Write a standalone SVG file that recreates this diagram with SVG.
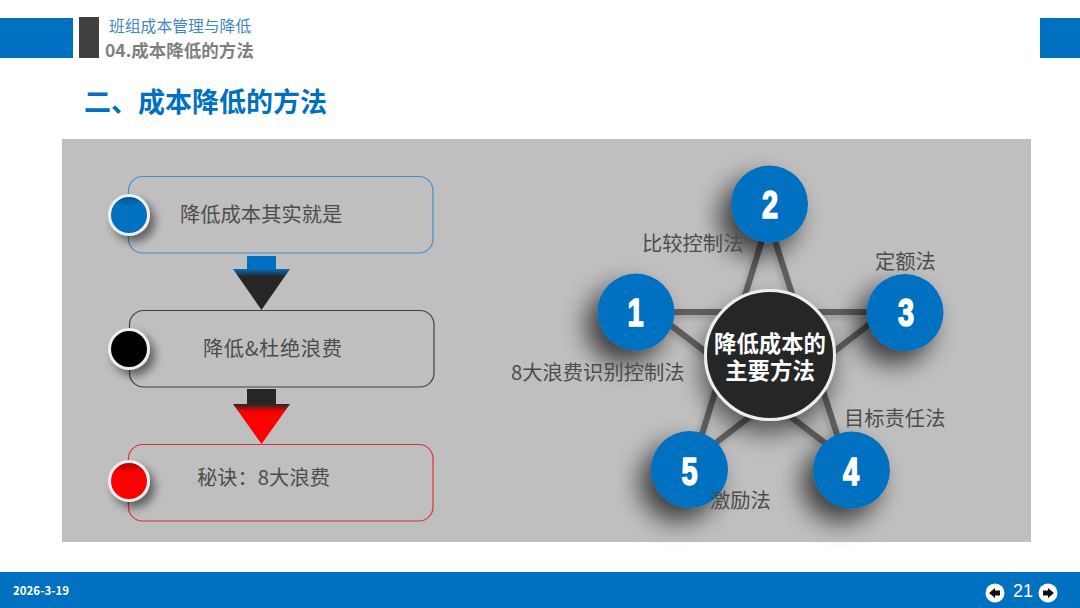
<svg xmlns="http://www.w3.org/2000/svg" width="1080" height="608" viewBox="0 0 1080 608">
<style>
text{font-family:"Noto Sans CJK SC","Noto Sans",sans-serif}
.blue{fill:#0070c0}
.lbl{font-size:20.300px;fill:#4d4d4d}
.box{fill:none;stroke-width:1.2}
.ring{stroke:#eeeeee;stroke-width:3}
.big{fill:#0070c0;filter:url(#sh)}
.num{font-family:"Liberation Sans",sans-serif;font-weight:700;font-size:38px;fill:#fff;stroke:#fff;stroke-width:1.600;text-anchor:middle}
.line{stroke:#5f5f5f;stroke-width:6;fill:none;filter:url(#sl)}
</style>
<defs>
<filter id="sh" x="-80%" y="-80%" width="260%" height="260%"><feGaussianBlur in="SourceAlpha" stdDeviation="13"/><feOffset dx="-11" dy="13"/><feComponentTransfer><feFuncA type="linear" slope="0.7"/></feComponentTransfer><feMerge><feMergeNode/><feMergeNode in="SourceGraphic"/></feMerge></filter>
<filter id="sh2" x="-60%" y="-60%" width="220%" height="220%"><feGaussianBlur in="SourceAlpha" stdDeviation="5"/><feOffset dx="5" dy="6"/><feComponentTransfer><feFuncA type="linear" slope="0.5"/></feComponentTransfer><feMerge><feMergeNode/><feMergeNode in="SourceGraphic"/></feMerge></filter>
<filter id="sh3" x="-50%" y="-50%" width="200%" height="200%"><feGaussianBlur in="SourceAlpha" stdDeviation="12"/><feOffset dx="-3" dy="13"/><feComponentTransfer><feFuncA type="linear" slope="0.55"/></feComponentTransfer><feMerge><feMergeNode/><feMergeNode in="SourceGraphic"/></feMerge></filter>
<filter id="sl" x="-20%" y="-20%" width="140%" height="140%"><feGaussianBlur in="SourceAlpha" stdDeviation="3"/><feOffset dx="-2" dy="3"/><feComponentTransfer><feFuncA type="linear" slope="0.2"/></feComponentTransfer><feMerge><feMergeNode/><feMergeNode in="SourceGraphic"/></feMerge></filter>
<linearGradient id="tb" x1="0" y1="0" x2="0" y2="1"><stop offset="0" stop-color="#0070c0"/><stop offset=".18" stop-color="#262626"/></linearGradient>
<linearGradient id="tr" x1="0" y1="0" x2="0" y2="1"><stop offset="0" stop-color="#262626"/><stop offset=".2" stop-color="#f00"/></linearGradient>
<linearGradient id="cb" x1="0" y1="0" x2="0" y2="1"><stop offset="0" stop-color="#00508c"/><stop offset=".25" stop-color="#0070c0"/></linearGradient>
<linearGradient id="cr" x1="0" y1="0" x2="0" y2="1"><stop offset="0" stop-color="#a80000"/><stop offset=".3" stop-color="#f00"/></linearGradient>
</defs>
<g id="header">
<rect class="blue" x="0" y="18" width="73" height="40"/>
<rect x="79" y="17" width="20" height="41" fill="#404040"/>
<rect class="blue" x="1040" y="18" width="40" height="40"/>
<text x="109" y="32" font-size="15.800" fill="#3f87c9">班组成本管理与降低</text>
<text x="105" y="57" font-size="17.500" font-weight="700" fill="#7f7f7f">04.成本降低的方法</text>
<text x="84" y="111.500" font-size="27" font-weight="700" fill="#0070c0">二、成本降低的方法</text>
</g>
<rect id="panel" x="62" y="139" width="969" height="403" fill="#bfbfbf"/>
<g id="connectors">
<rect x="247" y="256" width="29" height="14" fill="#0070c0"/>
<path d="M233 269H290L261.500 310Z" fill="url(#tb)"/>
<rect x="247" y="389" width="29" height="15" fill="#262626"/>
<path d="M233 404H290L261.500 444Z" fill="url(#tr)"/>
<path class="line" d="M767 224L699 444M769 222L841 447M660 317L838 453M880 316L704 452M660 312H880"/>
</g>
<g id="box1">
<rect class="box" x="128.500" y="176.500" width="304.500" height="76.500" rx="14" stroke="#4a8fc4"/>
<circle class="ring" cx="129" cy="215" r="19.500" fill="url(#cb)" filter="url(#sh2)"/>
<text class="lbl" x="180" y="222">降低成本其实就是</text>
</g>
<g id="box2">
<rect class="box" x="129.500" y="310.500" width="304.500" height="76.500" rx="14" stroke="#404040"/>
<circle class="ring" cx="129" cy="349" r="19.500" fill="#000" filter="url(#sh2)"/>
<text class="lbl" x="203" y="356" textLength="139">降低&amp;杜绝浪费</text>
</g>
<g id="box3">
<rect class="box" x="128.500" y="444.500" width="304.500" height="76.500" rx="14" stroke="#d9353f"/>
<circle class="ring" cx="129" cy="481" r="19.500" fill="url(#cr)" filter="url(#sh2)"/>
<text class="lbl" x="197" y="485">秘诀：8大浪费</text>
</g>
<g id="node1"><circle class="big" cx="636" cy="312" r="38.500"/><text class="num" transform="translate(635.500 326) scale(.76 1)">1</text></g>
<g id="node2"><circle class="big" cx="769.500" cy="204" r="38.500"/><text class="num" transform="translate(770 218) scale(.76 1)">2</text></g>
<g id="node3"><circle class="big" cx="905" cy="312.500" r="38.500"/><text class="num" transform="translate(906 326) scale(.76 1)">3</text></g>
<g id="node4"><circle class="big" cx="851.500" cy="470" r="38.500"/><text class="num" transform="translate(851 485) scale(.76 1)">4</text></g>
<g id="node5"><circle class="big" cx="689.500" cy="469.500" r="38.500"/><text class="num" transform="translate(689.500 485) scale(.76 1)">5</text></g>
<g id="center">
<circle cx="770" cy="355" r="64.500" fill="#262626" stroke="#eeeeee" stroke-width="3" filter="url(#sh3)"/>
<text font-size="22.400" font-weight="700" fill="#fff" text-anchor="middle"><tspan x="770" y="352">降低成本的</tspan><tspan x="770" y="379">主要方法</tspan></text>
</g>
<g id="labels">
<text class="lbl" x="642" y="251">比较控制法</text>
<text class="lbl" x="875" y="269">定额法</text>
<text class="lbl" x="511" y="380">8大浪费识别控制法</text>
<text class="lbl" x="844" y="426">目标责任法</text>
<text class="lbl" x="710" y="508">激励法</text>
</g>
<g id="footer">
<rect class="blue" x="0" y="572" width="1080" height="36"/>
<text x="13" y="595" font-size="12" font-weight="700" fill="#fff" textLength="56" lengthAdjust="spacingAndGlyphs">2026-3-19</text>
<text x="1013" y="597" style="font-family:'Liberation Sans',sans-serif" font-size="18" fill="#fff">21</text>
<circle cx="995" cy="593" r="9.500" fill="#fff"/>
<path d="M989 593L995 588V590.500H1000V595.500H995V598Z" fill="#111"/>
<circle cx="1048" cy="593" r="9.500" fill="#fff"/>
<path d="M1054 593L1048 588V590.500H1043V595.500H1048V598Z" fill="#111"/>
</g>
</svg>
